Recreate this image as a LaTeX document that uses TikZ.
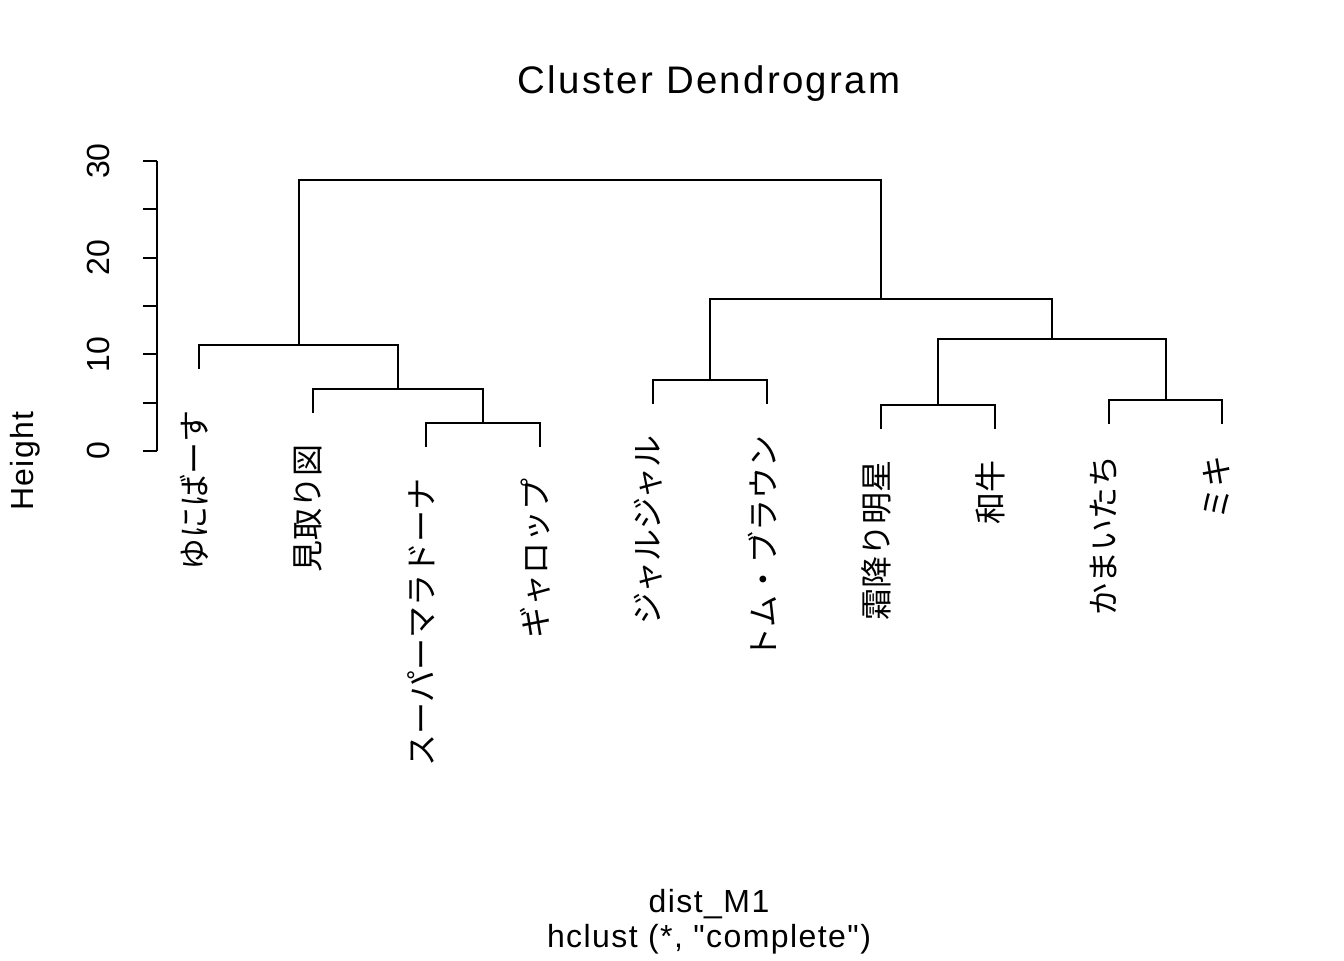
\documentclass[tikz,border=0pt]{standalone}
\usepackage{fontspec}
\setmainfont{Noto Sans CJK JP}
\newfontfamily\latinfont{Liberation Sans}[Ligatures=TeXOff]
\newfontfamily\latinwide{Liberation Sans}[Ligatures=TeXOff,LetterSpace=6]
\newfontfamily\latinmid{Liberation Sans}[Ligatures=TeXOff,LetterSpace=4.5]
\begin{document}
\begin{tikzpicture}[x=0.375pt,y=-0.375pt,
  tree/.style={line width=0.75pt,line join=miter},
  leaflab/.style={rotate=90,anchor=east,inner sep=0pt,font=\fontsize{12}{14}\selectfont},
  ticklab/.style={rotate=90,anchor=base,inner sep=0pt,font=\latinfont\fontsize{12}{14}\selectfont},
  plaintext/.style={anchor=base,inner sep=0pt,font=\latinmid\fontsize{12}{14}\selectfont}]
\useasboundingbox[fill=white] (0,0) rectangle (1344,960);

% title and axis labels
\node[anchor=base,inner sep=0pt,font=\latinwide\fontsize{14.4}{17}\selectfont] (title) at (709,93) {Cluster Dendrogram};
\node[plaintext] (xlab1) at (709,912) {dist\_M1};
\node[plaintext] (xlab2) at (709,947) {hclust (*, "complete")};
\node[plaintext,rotate=90] (ylab) at (33,461) {Height};

% y axis
\coordinate (ax0) at (157,451);
\coordinate (ax30) at (157,161);
\draw[tree] (ax0) -- (ax30);
\foreach \h in {0,5,...,30}{
  \draw[tree] (157,{451-9.6667*\h}) -- (143,{451-9.6667*\h});
}
\foreach \h in {0,10,20,30}{
  \node[ticklab] (t\h) at (110,{451-9.6667*\h}) {\h};
}

% leaves (bottom ends of the leaf lines)
\coordinate (L1) at (199,369);
\coordinate (L2) at (313,413);
\coordinate (L3) at (426,447);
\coordinate (L4) at (540,447);
\coordinate (L5) at (653,404);
\coordinate (L6) at (767,404);
\coordinate (L7) at (881,429);
\coordinate (L8) at (995,429);
\coordinate (L9) at (1109,424);
\coordinate (L10) at (1222,424);

% merges
\coordinate (m1) at (483,423);
\coordinate (m2) at (398,389);
\coordinate (m3) at (298.5,345);
\coordinate (m4) at (710,380);
\coordinate (m5) at (938,405);
\coordinate (m6) at (1165.5,400);
\coordinate (m7) at (1051.75,339);
\coordinate (m8) at (880.9,299);
\coordinate (m9) at (589.7,180);

\draw[tree] (L3) |- (m1) -| (L4);
\draw[tree] (L2) |- (m2) -| (m1);
\draw[tree] (L1) |- (m3) -| (m2);
\draw[tree] (L5) |- (m4) -| (L6);
\draw[tree] (L7) |- (m5) -| (L8);
\draw[tree] (L9) |- (m6) -| (L10);
\draw[tree] (m5) |- (m7) -| (m6);
\draw[tree] (m4) |- (m8) -| (m7);
\draw[tree] (m3) |- (m9) -| (m8);

% leaf labels
\node[leaflab] (n1) at (194,410) {ゆにばーす};
\node[leaflab] (n2) at (308,444) {見取り図};
\node[leaflab] (n3) at (421,478) {スーパーマラドーナ};
\node[leaflab] (n4) at (535,478) {ギャロップ};
\node[leaflab] (n5) at (648,435) {ジャルジャル};
\node[leaflab] (n6) at (762,435) {トム・ブラウン};
\node[leaflab] (n7) at (876,460) {霜降り明星};
\node[leaflab] (n8) at (990,460) {和牛};
\node[leaflab] (n9) at (1104,455) {かまいたち};
\node[leaflab] (n10) at (1217,455) {ミキ};
\end{tikzpicture}
\end{document}
